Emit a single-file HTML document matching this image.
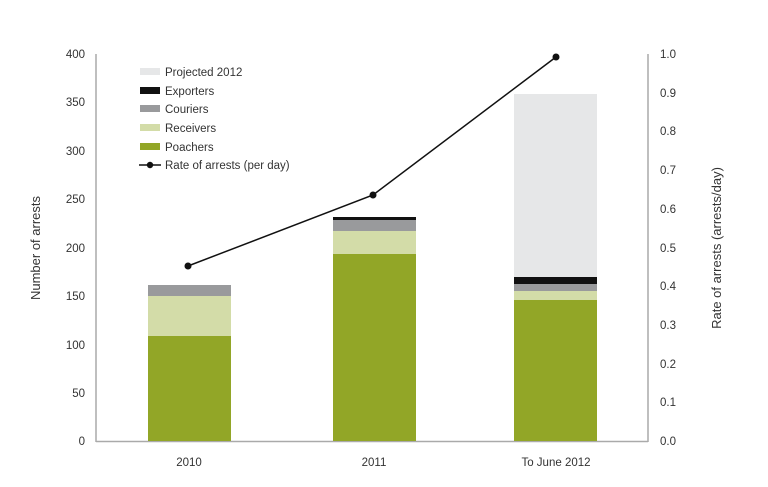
<!DOCTYPE html>
<html><head><style>body{margin:0;background:#fff}svg{display:block;font-family:"Liberation Sans",sans-serif}</style></head><body>
<svg width="768" height="487" viewBox="0 0 768 487">
<g stroke="#aaa" stroke-width="1.5" fill="none">
<line x1="96" y1="54" x2="96" y2="442"/>
<line x1="648" y1="54" x2="648" y2="442"/>
<line x1="96" y1="441.5" x2="648" y2="441.5"/>
</g>
<g font-size="11.5" fill="#333" text-anchor="end">
<text x="85" y="58">400</text><text x="85" y="106">350</text><text x="85" y="155">300</text><text x="85" y="203">250</text><text x="85" y="252">200</text><text x="85" y="300">150</text><text x="85" y="349">100</text><text x="85" y="397">50</text><text x="85" y="445">0</text>
</g>
<g font-size="11.5" fill="#333">
<text x="660" y="58">1.0</text><text x="660" y="97">0.9</text><text x="660" y="135">0.8</text><text x="660" y="174">0.7</text><text x="660" y="213">0.6</text><text x="660" y="252">0.5</text><text x="660" y="290">0.4</text><text x="660" y="329">0.3</text><text x="660" y="368">0.2</text><text x="660" y="406">0.1</text><text x="660" y="445">0.0</text>
</g>
<text transform="translate(40,248) rotate(-90)" font-size="13" fill="#333" text-anchor="middle">Number of arrests</text>
<text transform="translate(721,248) rotate(-90)" font-size="13" fill="#333" text-anchor="middle">Rate of arrests (arrests/day)</text>
<g font-size="11.5" fill="#333" text-anchor="middle">
<text x="189" y="466">2010</text><text x="374" y="466">2011</text><text x="556" y="466">To June 2012</text>
</g>
<!-- 2010 -->
<rect x="148" y="336" width="83" height="105" fill="#92a627"/>
<rect x="148" y="296" width="83" height="40" fill="#d3dca8"/>
<rect x="148" y="285" width="83" height="11" fill="#999a9c"/>
<!-- 2011 -->
<rect x="333" y="254" width="83" height="187" fill="#92a627"/>
<rect x="333" y="231" width="83" height="23" fill="#d3dca8"/>
<rect x="333" y="220" width="83" height="11" fill="#999a9c"/>
<rect x="333" y="217" width="83" height="3" fill="#111"/>
<!-- 2012 -->
<rect x="514" y="94" width="83" height="183" fill="#e6e7e8"/>
<rect x="514" y="300" width="83" height="141" fill="#92a627"/>
<rect x="514" y="291" width="83" height="9" fill="#d3dca8"/>
<rect x="514" y="284" width="83" height="7" fill="#999a9c"/>
<rect x="514" y="277" width="83" height="7" fill="#111"/>
<polyline points="188,266 373,195 556,57" fill="none" stroke="#111" stroke-width="1.5"/>
<circle cx="188" cy="266" r="3.5" fill="#111"/><circle cx="373" cy="195" r="3.5" fill="#111"/><circle cx="556" cy="57" r="3.5" fill="#111"/>
<!-- legend -->
<rect x="140" y="68" width="20" height="7" fill="#e6e7e8"/>
<rect x="140" y="87" width="20" height="7" fill="#111"/>
<rect x="140" y="105" width="20" height="7" fill="#999a9c"/>
<rect x="140" y="124" width="20" height="7" fill="#d3dca8"/>
<rect x="140" y="143" width="20" height="7" fill="#92a627"/>
<line x1="139" y1="165" x2="161" y2="165" stroke="#111" stroke-width="1.5"/><circle cx="150" cy="165" r="3.2" fill="#111"/>
<g font-size="11.5" fill="#333">
<text x="165" y="76">Projected 2012</text><text x="165" y="95">Exporters</text><text x="165" y="113">Couriers</text><text x="165" y="132">Receivers</text><text x="165" y="151">Poachers</text><text x="165" y="169">Rate of arrests (per day)</text>
</g>
</svg>
</body></html>
